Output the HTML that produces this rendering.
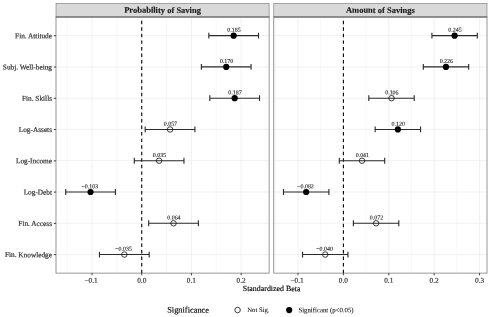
<!DOCTYPE html><html><head><meta charset="utf-8"><style>html,body{margin:0;padding:0;background:#fff}</style></head><body><svg width="490" height="317" viewBox="0 0 490 317" style="display:block;will-change:transform;font-family:'Liberation Serif',serif">
<rect width="490" height="317" fill="#fff"/>
<line x1="67.18" x2="67.18" y1="17.0" y2="273.1" stroke="#ebebeb" stroke-width="0.35"/>
<line x1="116.88" x2="116.88" y1="17.0" y2="273.1" stroke="#ebebeb" stroke-width="0.35"/>
<line x1="166.58" x2="166.58" y1="17.0" y2="273.1" stroke="#ebebeb" stroke-width="0.35"/>
<line x1="216.28" x2="216.28" y1="17.0" y2="273.1" stroke="#ebebeb" stroke-width="0.35"/>
<line x1="265.98" x2="265.98" y1="17.0" y2="273.1" stroke="#ebebeb" stroke-width="0.35"/>
<line x1="92.03" x2="92.03" y1="17.0" y2="273.1" stroke="#ebebeb" stroke-width="0.7"/>
<line x1="141.73" x2="141.73" y1="17.0" y2="273.1" stroke="#ebebeb" stroke-width="0.7"/>
<line x1="191.43" x2="191.43" y1="17.0" y2="273.1" stroke="#ebebeb" stroke-width="0.7"/>
<line x1="241.13" x2="241.13" y1="17.0" y2="273.1" stroke="#ebebeb" stroke-width="0.7"/>
<line x1="56.0" x2="269.1" y1="35.65" y2="35.65" stroke="#ebebeb" stroke-width="0.7"/>
<line x1="56.0" x2="269.1" y1="66.92" y2="66.92" stroke="#ebebeb" stroke-width="0.7"/>
<line x1="56.0" x2="269.1" y1="98.19" y2="98.19" stroke="#ebebeb" stroke-width="0.7"/>
<line x1="56.0" x2="269.1" y1="129.46" y2="129.46" stroke="#ebebeb" stroke-width="0.7"/>
<line x1="56.0" x2="269.1" y1="160.73" y2="160.73" stroke="#ebebeb" stroke-width="0.7"/>
<line x1="56.0" x2="269.1" y1="192.00" y2="192.00" stroke="#ebebeb" stroke-width="0.7"/>
<line x1="56.0" x2="269.1" y1="223.27" y2="223.27" stroke="#ebebeb" stroke-width="0.7"/>
<line x1="56.0" x2="269.1" y1="254.54" y2="254.54" stroke="#ebebeb" stroke-width="0.7"/>
<line x1="141.73" x2="141.73" y1="273.1" y2="20" stroke="#000" stroke-width="1.08" stroke-dasharray="3.45 3.1"/>
<path d="M208.82 35.65H258.52M208.82 32.75v5.8M258.52 32.75v5.8" stroke="#2b2b2b" stroke-width="1.12" fill="none"/>
<circle cx="233.67" cy="35.65" r="3.1" fill="#000"/>
<text x="234.02" y="31.85" font-size="5.95" text-anchor="middle" fill="#1a1a1a" transform="rotate(0.1 234.02 31.85)" stroke="#1a1a1a" stroke-width="0.1">0.185</text>
<path d="M201.37 66.92H251.07M201.37 64.02v5.8M251.07 64.02v5.8" stroke="#2b2b2b" stroke-width="1.12" fill="none"/>
<circle cx="226.22" cy="66.92" r="3.1" fill="#000"/>
<text x="226.57" y="63.12" font-size="5.95" text-anchor="middle" fill="#1a1a1a" transform="rotate(0.1 226.57 63.12)" stroke="#1a1a1a" stroke-width="0.1">0.170</text>
<path d="M209.82 98.19H259.52M209.82 95.29v5.8M259.52 95.29v5.8" stroke="#2b2b2b" stroke-width="1.12" fill="none"/>
<circle cx="234.67" cy="98.19" r="3.1" fill="#000"/>
<text x="235.02" y="94.39" font-size="5.95" text-anchor="middle" fill="#1a1a1a" transform="rotate(0.1 235.02 94.39)" stroke="#1a1a1a" stroke-width="0.1">0.187</text>
<path d="M145.21 129.46H194.91M145.21 126.56v5.8M194.91 126.56v5.8" stroke="#2b2b2b" stroke-width="1.12" fill="none"/>
<circle cx="170.06" cy="129.46" r="2.75" fill="none" stroke="#111" stroke-width="0.8"/>
<text x="170.41" y="125.66" font-size="5.95" text-anchor="middle" fill="#1a1a1a" transform="rotate(0.1 170.41 125.66)" stroke="#1a1a1a" stroke-width="0.1">0.057</text>
<path d="M134.27 160.73H183.97M134.27 157.83v5.8M183.97 157.83v5.8" stroke="#2b2b2b" stroke-width="1.12" fill="none"/>
<circle cx="159.12" cy="160.73" r="2.75" fill="none" stroke="#111" stroke-width="0.8"/>
<text x="159.47" y="156.93" font-size="5.95" text-anchor="middle" fill="#1a1a1a" transform="rotate(0.1 159.47 156.93)" stroke="#1a1a1a" stroke-width="0.1">0.035</text>
<path d="M65.69 192.00H115.39M65.69 189.10v5.8M115.39 189.10v5.8" stroke="#2b2b2b" stroke-width="1.12" fill="none"/>
<circle cx="90.54" cy="192.00" r="3.1" fill="#000"/>
<text x="89.84" y="188.20" font-size="5.95" text-anchor="middle" fill="#1a1a1a" transform="rotate(0.1 89.84 188.20)" stroke="#1a1a1a" stroke-width="0.1">−0.103</text>
<path d="M148.69 223.27H198.39M148.69 220.37v5.8M198.39 220.37v5.8" stroke="#2b2b2b" stroke-width="1.12" fill="none"/>
<circle cx="173.54" cy="223.27" r="2.75" fill="none" stroke="#111" stroke-width="0.8"/>
<text x="173.89" y="219.47" font-size="5.95" text-anchor="middle" fill="#1a1a1a" transform="rotate(0.1 173.89 219.47)" stroke="#1a1a1a" stroke-width="0.1">0.064</text>
<path d="M99.48 254.54H149.19M99.48 251.64v5.8M149.19 251.64v5.8" stroke="#2b2b2b" stroke-width="1.12" fill="none"/>
<circle cx="124.33" cy="254.54" r="2.75" fill="none" stroke="#111" stroke-width="0.8"/>
<text x="123.63" y="250.74" font-size="5.95" text-anchor="middle" fill="#1a1a1a" transform="rotate(0.1 123.63 250.74)" stroke="#1a1a1a" stroke-width="0.1">−0.035</text>
<rect x="56.0" y="3.45" width="213.10" height="13.55" fill="#d9d9d9" stroke="#6a6a6a" stroke-width="0.55"/>
<rect x="56.0" y="17.0" width="213.10" height="256.10" fill="none" stroke="#585858" stroke-width="0.62"/>
<line x1="55.69" x2="269.41" y1="17.0" y2="17.0" stroke="#6e6e6e" stroke-width="0.8"/>
<text x="162.55" y="12.90" font-size="8.5" text-anchor="middle" fill="#1a1a1a" transform="rotate(0.1 162.55 12.90)" font-weight="bold" stroke="#1a1a1a" stroke-width="0.15">Probability of Saving</text>
<line x1="92.03" x2="92.03" y1="273.1" y2="275.3" stroke="#333" stroke-width="0.95"/>
<text x="91.03" y="282.70" font-size="7.3" text-anchor="middle" fill="#303030" transform="rotate(0.1 91.03 282.70)" stroke="#303030" stroke-width="0.18">−0.1</text>
<line x1="141.73" x2="141.73" y1="273.1" y2="275.3" stroke="#333" stroke-width="0.95"/>
<text x="141.73" y="282.70" font-size="7.3" text-anchor="middle" fill="#303030" transform="rotate(0.1 141.73 282.70)" stroke="#303030" stroke-width="0.18">0.0</text>
<line x1="191.43" x2="191.43" y1="273.1" y2="275.3" stroke="#333" stroke-width="0.95"/>
<text x="191.43" y="282.70" font-size="7.3" text-anchor="middle" fill="#303030" transform="rotate(0.1 191.43 282.70)" stroke="#303030" stroke-width="0.18">0.1</text>
<line x1="241.13" x2="241.13" y1="273.1" y2="275.3" stroke="#333" stroke-width="0.95"/>
<text x="241.13" y="282.70" font-size="7.3" text-anchor="middle" fill="#303030" transform="rotate(0.1 241.13 282.70)" stroke="#303030" stroke-width="0.18">0.2</text>
<line x1="275.31" x2="275.31" y1="17.0" y2="273.1" stroke="#ebebeb" stroke-width="0.35"/>
<line x1="320.70" x2="320.70" y1="17.0" y2="273.1" stroke="#ebebeb" stroke-width="0.35"/>
<line x1="366.09" x2="366.09" y1="17.0" y2="273.1" stroke="#ebebeb" stroke-width="0.35"/>
<line x1="411.48" x2="411.48" y1="17.0" y2="273.1" stroke="#ebebeb" stroke-width="0.35"/>
<line x1="456.88" x2="456.88" y1="17.0" y2="273.1" stroke="#ebebeb" stroke-width="0.35"/>
<line x1="298.01" x2="298.01" y1="17.0" y2="273.1" stroke="#ebebeb" stroke-width="0.7"/>
<line x1="343.40" x2="343.40" y1="17.0" y2="273.1" stroke="#ebebeb" stroke-width="0.7"/>
<line x1="388.79" x2="388.79" y1="17.0" y2="273.1" stroke="#ebebeb" stroke-width="0.7"/>
<line x1="434.18" x2="434.18" y1="17.0" y2="273.1" stroke="#ebebeb" stroke-width="0.7"/>
<line x1="479.57" x2="479.57" y1="17.0" y2="273.1" stroke="#ebebeb" stroke-width="0.7"/>
<line x1="273.8" x2="487.0" y1="35.65" y2="35.65" stroke="#ebebeb" stroke-width="0.7"/>
<line x1="273.8" x2="487.0" y1="66.92" y2="66.92" stroke="#ebebeb" stroke-width="0.7"/>
<line x1="273.8" x2="487.0" y1="98.19" y2="98.19" stroke="#ebebeb" stroke-width="0.7"/>
<line x1="273.8" x2="487.0" y1="129.46" y2="129.46" stroke="#ebebeb" stroke-width="0.7"/>
<line x1="273.8" x2="487.0" y1="160.73" y2="160.73" stroke="#ebebeb" stroke-width="0.7"/>
<line x1="273.8" x2="487.0" y1="192.00" y2="192.00" stroke="#ebebeb" stroke-width="0.7"/>
<line x1="273.8" x2="487.0" y1="223.27" y2="223.27" stroke="#ebebeb" stroke-width="0.7"/>
<line x1="273.8" x2="487.0" y1="254.54" y2="254.54" stroke="#ebebeb" stroke-width="0.7"/>
<line x1="343.40" x2="343.40" y1="273.1" y2="20" stroke="#000" stroke-width="1.08" stroke-dasharray="3.45 3.1"/>
<path d="M431.91 35.65H477.30M431.91 32.75v5.8M477.30 32.75v5.8" stroke="#2b2b2b" stroke-width="1.12" fill="none"/>
<circle cx="454.61" cy="35.65" r="3.1" fill="#000"/>
<text x="454.96" y="31.85" font-size="5.95" text-anchor="middle" fill="#1a1a1a" transform="rotate(0.1 454.96 31.85)" stroke="#1a1a1a" stroke-width="0.1">0.245</text>
<path d="M423.29 66.92H468.68M423.29 64.02v5.8M468.68 64.02v5.8" stroke="#2b2b2b" stroke-width="1.12" fill="none"/>
<circle cx="445.98" cy="66.92" r="3.1" fill="#000"/>
<text x="446.33" y="63.12" font-size="5.95" text-anchor="middle" fill="#1a1a1a" transform="rotate(0.1 446.33 63.12)" stroke="#1a1a1a" stroke-width="0.1">0.226</text>
<path d="M368.82 98.19H414.21M368.82 95.29v5.8M414.21 95.29v5.8" stroke="#2b2b2b" stroke-width="1.12" fill="none"/>
<circle cx="391.51" cy="98.19" r="2.75" fill="none" stroke="#111" stroke-width="0.8"/>
<text x="391.86" y="94.39" font-size="5.95" text-anchor="middle" fill="#1a1a1a" transform="rotate(0.1 391.86 94.39)" stroke="#1a1a1a" stroke-width="0.1">0.106</text>
<path d="M375.17 129.46H420.56M375.17 126.56v5.8M420.56 126.56v5.8" stroke="#2b2b2b" stroke-width="1.12" fill="none"/>
<circle cx="397.87" cy="129.46" r="3.1" fill="#000"/>
<text x="398.22" y="125.66" font-size="5.95" text-anchor="middle" fill="#1a1a1a" transform="rotate(0.1 398.22 125.66)" stroke="#1a1a1a" stroke-width="0.1">0.120</text>
<path d="M339.31 160.73H384.70M339.31 157.83v5.8M384.70 157.83v5.8" stroke="#2b2b2b" stroke-width="1.12" fill="none"/>
<circle cx="362.01" cy="160.73" r="2.75" fill="none" stroke="#111" stroke-width="0.8"/>
<text x="362.36" y="156.93" font-size="5.95" text-anchor="middle" fill="#1a1a1a" transform="rotate(0.1 362.36 156.93)" stroke="#1a1a1a" stroke-width="0.1">0.041</text>
<path d="M283.49 192.00H328.88M283.49 189.10v5.8M328.88 189.10v5.8" stroke="#2b2b2b" stroke-width="1.12" fill="none"/>
<circle cx="306.18" cy="192.00" r="3.1" fill="#000"/>
<text x="305.48" y="188.20" font-size="5.95" text-anchor="middle" fill="#1a1a1a" transform="rotate(0.1 305.48 188.20)" stroke="#1a1a1a" stroke-width="0.1">−0.082</text>
<path d="M353.39 223.27H398.78M353.39 220.37v5.8M398.78 220.37v5.8" stroke="#2b2b2b" stroke-width="1.12" fill="none"/>
<circle cx="376.08" cy="223.27" r="2.75" fill="none" stroke="#111" stroke-width="0.8"/>
<text x="376.43" y="219.47" font-size="5.95" text-anchor="middle" fill="#1a1a1a" transform="rotate(0.1 376.43 219.47)" stroke="#1a1a1a" stroke-width="0.1">0.072</text>
<path d="M302.55 254.54H347.94M302.55 251.64v5.8M347.94 251.64v5.8" stroke="#2b2b2b" stroke-width="1.12" fill="none"/>
<circle cx="325.24" cy="254.54" r="2.75" fill="none" stroke="#111" stroke-width="0.8"/>
<text x="324.54" y="250.74" font-size="5.95" text-anchor="middle" fill="#1a1a1a" transform="rotate(0.1 324.54 250.74)" stroke="#1a1a1a" stroke-width="0.1">−0.040</text>
<rect x="273.8" y="3.45" width="213.20" height="13.55" fill="#d9d9d9" stroke="#6a6a6a" stroke-width="0.55"/>
<rect x="273.8" y="17.0" width="213.20" height="256.10" fill="none" stroke="#585858" stroke-width="0.62"/>
<line x1="273.49" x2="487.31" y1="17.0" y2="17.0" stroke="#6e6e6e" stroke-width="0.8"/>
<text x="380.40" y="12.90" font-size="8.5" text-anchor="middle" fill="#1a1a1a" transform="rotate(0.1 380.40 12.90)" font-weight="bold" stroke="#1a1a1a" stroke-width="0.15">Amount of Savings</text>
<line x1="298.01" x2="298.01" y1="273.1" y2="275.3" stroke="#333" stroke-width="0.95"/>
<text x="297.01" y="282.70" font-size="7.3" text-anchor="middle" fill="#303030" transform="rotate(0.1 297.01 282.70)" stroke="#303030" stroke-width="0.18">−0.1</text>
<line x1="343.40" x2="343.40" y1="273.1" y2="275.3" stroke="#333" stroke-width="0.95"/>
<text x="343.40" y="282.70" font-size="7.3" text-anchor="middle" fill="#303030" transform="rotate(0.1 343.40 282.70)" stroke="#303030" stroke-width="0.18">0.0</text>
<line x1="388.79" x2="388.79" y1="273.1" y2="275.3" stroke="#333" stroke-width="0.95"/>
<text x="388.79" y="282.70" font-size="7.3" text-anchor="middle" fill="#303030" transform="rotate(0.1 388.79 282.70)" stroke="#303030" stroke-width="0.18">0.1</text>
<line x1="434.18" x2="434.18" y1="273.1" y2="275.3" stroke="#333" stroke-width="0.95"/>
<text x="434.18" y="282.70" font-size="7.3" text-anchor="middle" fill="#303030" transform="rotate(0.1 434.18 282.70)" stroke="#303030" stroke-width="0.18">0.2</text>
<line x1="479.57" x2="479.57" y1="273.1" y2="275.3" stroke="#333" stroke-width="0.95"/>
<text x="479.57" y="282.70" font-size="7.3" text-anchor="middle" fill="#303030" transform="rotate(0.1 479.57 282.70)" stroke="#303030" stroke-width="0.18">0.3</text>
<line x1="53.8" x2="56.0" y1="35.75" y2="35.75" stroke="#333" stroke-width="0.95"/>
<text x="52.00" y="38.30" font-size="7.3" text-anchor="end" fill="#303030" transform="rotate(0.1 52.00 38.30)" stroke="#303030" stroke-width="0.2">Fin. Attitude</text>
<line x1="53.8" x2="56.0" y1="67.02" y2="67.02" stroke="#333" stroke-width="0.95"/>
<text x="52.00" y="69.57" font-size="7.3" text-anchor="end" fill="#303030" transform="rotate(0.1 52.00 69.57)" stroke="#303030" stroke-width="0.2">Subj. Well-being</text>
<line x1="53.8" x2="56.0" y1="98.29" y2="98.29" stroke="#333" stroke-width="0.95"/>
<text x="52.00" y="100.84" font-size="7.3" text-anchor="end" fill="#303030" transform="rotate(0.1 52.00 100.84)" stroke="#303030" stroke-width="0.2">Fin. Skills</text>
<line x1="53.8" x2="56.0" y1="129.56" y2="129.56" stroke="#333" stroke-width="0.95"/>
<text x="52.00" y="132.11" font-size="7.3" text-anchor="end" fill="#303030" transform="rotate(0.1 52.00 132.11)" stroke="#303030" stroke-width="0.2">Log-Assets</text>
<line x1="53.8" x2="56.0" y1="160.83" y2="160.83" stroke="#333" stroke-width="0.95"/>
<text x="52.00" y="163.38" font-size="7.3" text-anchor="end" fill="#303030" transform="rotate(0.1 52.00 163.38)" stroke="#303030" stroke-width="0.2">Log-Income</text>
<line x1="53.8" x2="56.0" y1="192.10" y2="192.10" stroke="#333" stroke-width="0.95"/>
<text x="52.00" y="194.65" font-size="7.3" text-anchor="end" fill="#303030" transform="rotate(0.1 52.00 194.65)" stroke="#303030" stroke-width="0.2">Log-Debt</text>
<line x1="53.8" x2="56.0" y1="223.37" y2="223.37" stroke="#333" stroke-width="0.95"/>
<text x="52.00" y="225.92" font-size="7.3" text-anchor="end" fill="#303030" transform="rotate(0.1 52.00 225.92)" stroke="#303030" stroke-width="0.2">Fin. Access</text>
<line x1="53.8" x2="56.0" y1="254.64" y2="254.64" stroke="#333" stroke-width="0.95"/>
<text x="52.00" y="257.19" font-size="7.3" text-anchor="end" fill="#303030" transform="rotate(0.1 52.00 257.19)" stroke="#303030" stroke-width="0.2">Fin. Knowledge</text>
<text x="271.60" y="291.10" font-size="7.9" text-anchor="middle" fill="#000" transform="rotate(0.1 271.60 291.10)" stroke="#000" stroke-width="0.15">Standardized Beta</text>
<text x="167.20" y="312.60" font-size="8.4" text-anchor="start" fill="#000" transform="rotate(0.1 167.20 312.60)" stroke="#000" stroke-width="0.15">Significance</text>
<circle cx="237.6" cy="310" r="2.75" fill="none" stroke="#111" stroke-width="0.8"/>
<text x="247.30" y="312.10" font-size="6.65" text-anchor="start" fill="#000" transform="rotate(0.1 247.30 312.10)" stroke="#000" stroke-width="0.05">Not Sig.</text>
<circle cx="289.2" cy="310.1" r="3.1" fill="#000"/>
<text x="298.40" y="312.20" font-size="6.8" text-anchor="start" fill="#000" transform="rotate(0.1 298.40 312.20)" stroke="#000" stroke-width="0.05">Significant (p&lt;0.05)</text>
</svg></body></html>
